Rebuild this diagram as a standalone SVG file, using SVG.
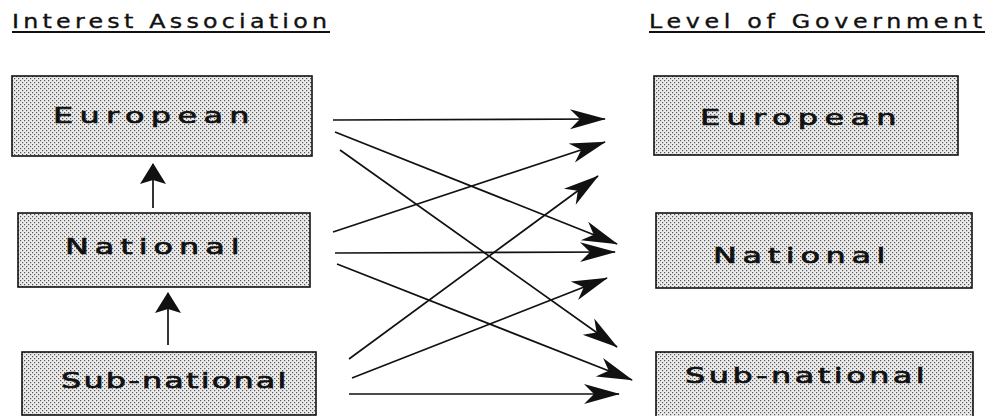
<svg xmlns="http://www.w3.org/2000/svg" width="995" height="416" viewBox="0 0 995 416">
  <style>
    .box { fill: url(#stipple); stroke: #111; stroke-width: 1.6; }
    .label { font-family: "DejaVu Sans", "Liberation Sans", sans-serif; font-size: 22px; fill: #111; stroke: #111; stroke-width: 0.7; }
    .head { font-family: "DejaVu Sans", "Liberation Sans", sans-serif; font-size: 19px; fill: #111; stroke: #111; stroke-width: 0.35; }
    .rule { stroke: #111; stroke-width: 1.8; }
    .link { stroke: #111; stroke-width: 1.7; fill: none; marker-end: url(#barb); }
    .up { stroke: #111; stroke-width: 1.7; fill: none; marker-end: url(#tri); }
  </style>
  <defs>
    <!-- fine halftone fill used inside every box -->
    <pattern id="stipple" width="4" height="4" patternUnits="userSpaceOnUse">
      <rect width="4" height="4" fill="#ececec"/>
      <rect x="0" y="0" width="1.2" height="1.2" fill="#555"/>
      <rect x="2" y="2" width="1.2" height="1.2" fill="#555"/>
    </pattern>
    <!-- long barbed head for the cross links -->
    <marker id="barb" markerUnits="userSpaceOnUse" markerWidth="1" markerHeight="1" refX="0" refY="0" orient="auto" overflow="visible">
      <path d="M1,0 L-35,-10 L-25,0 L-35,10 Z" fill="#111"/>
    </marker>
    <!-- short wide head for the vertical links -->
    <marker id="tri" markerUnits="userSpaceOnUse" markerWidth="1" markerHeight="1" refX="0" refY="0" orient="auto" overflow="visible">
      <path d="M1,0 L-20,-13 L-16,0 L-20,13 Z" fill="#111"/>
    </marker>
  </defs>

  <rect width="995" height="416" fill="#ffffff"/>

  <!-- column headings -->
  <g id="heading-left">
    <text class="head" transform="translate(12,28) scale(1.25,1)" letter-spacing="3.4">Interest Association</text>
    <line class="rule" x1="12" y1="32" x2="330" y2="32"/>
  </g>
  <g id="heading-right">
    <text class="head" transform="translate(649,28) scale(1.25,1)" letter-spacing="3.75">Level of Government</text>
    <line class="rule" x1="649" y1="32" x2="985" y2="32"/>
  </g>

  <!-- interest association levels -->
  <g id="ia-european">
    <rect class="box" x="12" y="76" width="300" height="80"/>
    <text class="label" transform="translate(53,123) scale(1.45,1)" letter-spacing="4.4">European</text>
  </g>
  <g id="ia-national">
    <rect class="box" x="18" y="213" width="292" height="74"/>
    <text class="label" transform="translate(65,254) scale(1.45,1)" letter-spacing="4.1">National</text>
  </g>
  <g id="ia-subnational">
    <rect class="box" x="22" y="352" width="294" height="63"/>
    <text class="label" transform="translate(61,388) scale(1.45,1)" letter-spacing="1.5">Sub-national</text>
  </g>

  <!-- government levels -->
  <g id="gov-european">
    <rect class="box" x="654" y="76" width="304" height="79"/>
    <text class="label" transform="translate(700,125) scale(1.45,1)" letter-spacing="4.4">European</text>
  </g>
  <g id="gov-national">
    <rect class="box" x="656" y="213" width="316" height="75"/>
    <text class="label" transform="translate(713,263) scale(1.45,1)" letter-spacing="3.9">National</text>
  </g>
  <g id="gov-subnational">
    <rect class="box" x="656" y="352" width="317" height="70"/>
    <text class="label" transform="translate(685,383) scale(1.45,1)" letter-spacing="2.4">Sub-national</text>
  </g>

  <!-- connectors -->
  <g id="connectors">
    <line class="up" x1="153" y1="208" x2="153" y2="164"/>
    <line class="up" x1="168" y1="345" x2="168" y2="293"/>

    <line class="link" x1="333" y1="120" x2="605" y2="119"/>
    <line class="link" x1="335" y1="132" x2="617" y2="244"/>
    <line class="link" x1="340" y1="150" x2="617" y2="347"/>

    <line class="link" x1="333" y1="232" x2="605" y2="142"/>
    <line class="link" x1="335" y1="253" x2="615" y2="252"/>
    <line class="link" x1="337" y1="264" x2="632" y2="380"/>

    <line class="link" x1="349" y1="359" x2="598" y2="176"/>
    <line class="link" x1="352" y1="378" x2="607" y2="278"/>
    <line class="link" x1="349" y1="394" x2="619" y2="394"/>
  </g>
</svg>
